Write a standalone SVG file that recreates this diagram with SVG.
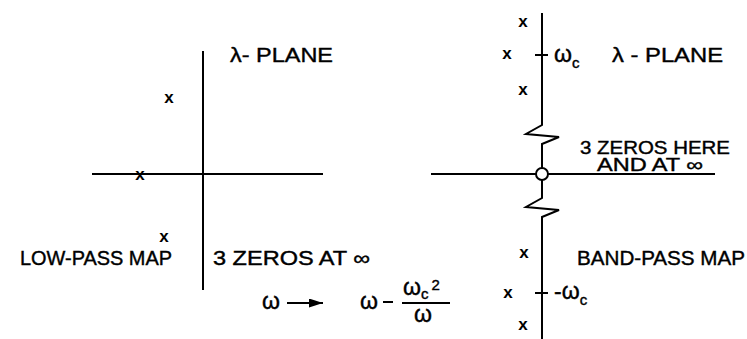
<svg xmlns="http://www.w3.org/2000/svg" width="747" height="339" viewBox="0 0 747 339">
<style>
  .ax { stroke: #000; stroke-width: 2; fill: none; }
  .t { font-family: "Liberation Sans", Arial, sans-serif; font-size: 20px; fill: #000; stroke: #000; stroke-width: 0.4; }
  .t2 { font-family: "Liberation Sans", Arial, sans-serif; font-size: 18px; fill: #000; stroke: #000; stroke-width: 0.4; }
  .pole { font-family: "Liberation Sans", Arial, sans-serif; font-size: 17px; font-weight: bold; fill: #000; text-anchor: middle; }
  .w { font-family: "Liberation Sans", Arial, sans-serif; font-size: 23px; fill: #000; stroke: #000; stroke-width: 0.4; }
  .sub { font-size: 15px; }
</style>
<defs>
  <marker id="ah" viewBox="0 0 14 9" refX="14" refY="4.5" markerWidth="14" markerHeight="9" markerUnits="userSpaceOnUse" orient="auto">
    <polygon points="0,0 14,4.5 0,9" fill="#000"/>
  </marker>
</defs>
<rect width="747" height="339" fill="#fff"/>

<g id="lowpass">
  <g id="lp-axes">
    <line class="ax" x1="203" y1="51" x2="203" y2="290"/>
    <line class="ax" x1="92" y1="174" x2="323" y2="174"/>
  </g>
  <g id="lp-poles">
    <text class="pole" x="169" y="103">x</text>
    <text class="pole" x="140" y="180">x</text>
    <text class="pole" x="164" y="242">x</text>
  </g>
  <text class="t" x="230" y="62" textLength="103" lengthAdjust="spacingAndGlyphs">λ- PLANE</text>
  <text class="t" x="20" y="265" textLength="152" lengthAdjust="spacingAndGlyphs">LOW-PASS MAP</text>
  <text class="t" x="213" y="265" textLength="157" lengthAdjust="spacingAndGlyphs">3 ZEROS AT ∞</text>
</g>

<g id="mapping">
  <text class="w" x="262" y="309">ω</text>
  <line class="ax" x1="287" y1="303" x2="323" y2="303" marker-end="url(#ah)"/>
  <text class="w" x="360" y="309">ω</text>
  <line class="ax" x1="383" y1="302" x2="393" y2="302"/>
  <text class="w" x="403" y="295">ω<tspan class="sub" dy="4">c</tspan><tspan class="sub" dx="3" dy="-9">2</tspan></text>
  <line class="ax" x1="402" y1="303" x2="450" y2="303"/>
  <text class="w" x="414" y="322">ω</text>
</g>

<g id="bandpass">
  <g id="bp-axes">
    <path class="ax" d="M542,13 V125 L526,134 L559,137 L542,144 V168"/>
    <path class="ax" d="M542,180 V198 L526,207 L559,210 L542,217 V339"/>
    <line class="ax" x1="431" y1="174" x2="536" y2="174"/>
    <line class="ax" x1="548" y1="174" x2="715" y2="174"/>
    <circle class="ax" cx="542" cy="174" r="6"/>
    <line class="ax" x1="535" y1="55" x2="548" y2="55"/>
    <line class="ax" x1="535" y1="293" x2="548" y2="293"/>
  </g>
  <g id="bp-poles">
    <text class="pole" x="523" y="27">x</text>
    <text class="pole" x="507" y="59">x</text>
    <text class="pole" x="523" y="95">x</text>
    <text class="pole" x="524" y="258">x</text>
    <text class="pole" x="508" y="298">x</text>
    <text class="pole" x="523" y="330">x</text>
  </g>
  <text class="w" x="554" y="62">ω<tspan class="sub" dy="6">c</tspan></text>
  <text class="w" x="554" y="299">-ω<tspan class="sub" dy="6">c</tspan></text>
  <text class="t" x="612" y="62" textLength="111" lengthAdjust="spacingAndGlyphs">λ - PLANE</text>
  <text class="t2" x="580" y="154" textLength="150" lengthAdjust="spacingAndGlyphs">3 ZEROS HERE</text>
  <text class="t2" x="597" y="171" textLength="106" lengthAdjust="spacingAndGlyphs">AND AT ∞</text>
  <text class="t" x="577" y="265" textLength="168" lengthAdjust="spacingAndGlyphs">BAND-PASS MAP</text>
</g>
</svg>
